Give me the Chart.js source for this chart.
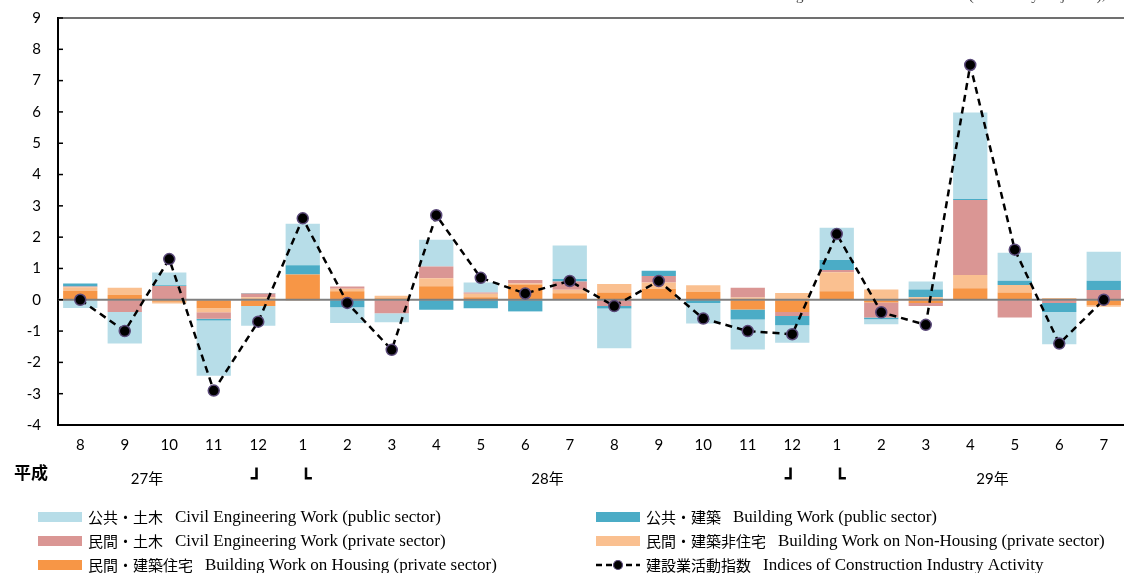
<!DOCTYPE html>
<html>
<head>
<meta charset="utf-8">
<script src="https://cdn.jsdelivr.net/npm/chart.js@4.4.0/dist/chart.umd.min.js"></script>
<style>
  html, body { margin: 0; padding: 0; background: #fff; }
  #wrap { width: 1124px; height: 573px; position: relative; overflow: hidden; }
</style>
</head>
<body>
<div id="wrap"><canvas id="chart" width="1133" height="573"></canvas></div>
<script>
const months = ['8', '9', '10', '11', '12', '1', '2', '3', '4', '5', '6', '7',
                '8', '9', '10', '11', '12', '1', '2', '3', '4', '5', '6', '7'];

// 寄与度 (contributions)
const housing    = [0.28, 0.15, -0.06, -0.27, -0.20, 0.81, 0.27, 0.05, 0.43, 0.08, 0.49, 0.21,
                    0.23, 0.35, 0.25, -0.31, -0.39, 0.27, -0.09, -0.10, 0.37, 0.23, 0.02, -0.17];
const nonHousing = [0.12, 0.23, -0.06, -0.13, 0.08, -0.03, 0.08, 0.08, 0.26, 0.11, 0.03, 0.11,
                    0.27, 0.20, 0.21, 0.07, 0.22, 0.61, 0.33, 0.08, 0.42, 0.24, 0.04, -0.05];
const privCivil  = [0.02, -0.39, 0.44, -0.21, 0.12, 0, 0.07, -0.43, 0.37, 0.04, 0.11, 0.26,
                    -0.20, 0.21, 0, 0.31, -0.13, 0.07, -0.48, -0.10, 2.40, -0.57, -0.10, 0.31];
const pubBuild   = [0.10, 0, 0.02, -0.05, 0.02, 0.29, -0.24, 0, -0.32, -0.27, -0.36, 0.08,
                    -0.08, 0.17, -0.10, -0.32, -0.29, 0.32, -0.05, 0.25, 0.03, 0.14, -0.29, 0.30];
const pubCivil   = [-0.26, -1.01, 0.41, -1.77, -0.63, 1.33, -0.50, -0.29, 0.86, 0.32, -0.03, 1.07,
                    -1.27, 0, -0.66, -0.96, -0.56, 1.03, -0.16, 0.25, 2.76, 0.89, -1.03, 0.92];

// 建設業活動指数 前月比
const activityIndex = [0.0, -1.0, 1.3, -2.9, -0.7, 2.6, -0.1, -1.6, 2.7, 0.7, 0.2, 0.6,
                       -0.2, 0.6, -0.6, -1.0, -1.1, 2.1, -0.4, -0.8, 7.5, 1.6, -1.4, 0.0];

const yearLabels = [{ text: '27年', at: 1.5 }, { text: '28年', at: 10.5 }, { text: '29年', at: 20.5 }];
const yearBreaks = [4, 16];

const colors = {
    pubCivil: '#B7DDE8',
    pubBuild: '#4BACC6',
    privCivil: '#DA9694',
    nonHousing: '#FAC090',
    housing: '#F79646'
};

const legendItems = [
    { col: 0, row: 0, color: colors.pubCivil, jp: '公共・土木', en: 'Civil Engineering Work (public sector)' },
    { col: 0, row: 1, color: colors.privCivil, jp: '民間・土木', en: 'Civil Engineering Work (private sector)' },
    { col: 0, row: 2, color: colors.housing, jp: '民間・建築住宅', en: 'Building Work on Housing (private sector)' },
    { col: 1, row: 0, color: colors.pubBuild, jp: '公共・建築', en: 'Building Work (public sector)' },
    { col: 1, row: 1, color: colors.nonHousing, jp: '民間・建築非住宅', en: 'Building Work on Non-Housing (private sector)' },
    { col: 1, row: 2, line: true, jp: '建設業活動指数', en: 'Indices of Construction Industry Activity' }
];

const JP_FONT = '"Noto Sans CJK JP", "Noto Sans", sans-serif';
const EN_FONT = '"Liberation Serif", "DejaVu Serif", serif';
const NUM_FONT = 'Lato, "Noto Sans CJK JP", sans-serif';

function barSet(label, data, color) {
    return {
        type: 'bar',
        label: label,
        data: data,
        backgroundColor: color,
        borderWidth: 0,
        stack: 'contrib',
        barPercentage: 0.77,
        categoryPercentage: 1.0
    };
}

const extras = {
    id: 'extras',
    beforeDatasetDraw(chart, args) {
        // zero line goes above the bars but under the index line
        if (args.index !== 0) return;
        const { ctx, chartArea } = chart;
        const y0 = chart.scales.y.getPixelForValue(0);
        ctx.save();
        ctx.strokeStyle = '#7f7f7f';
        ctx.lineWidth = 2;
        ctx.beginPath();
        ctx.moveTo(chartArea.left, y0);
        ctx.lineTo(chartArea.right, y0);
        ctx.stroke();
        ctx.restore();
    },
    afterDraw(chart) {
        const { ctx, chartArea } = chart;
        const x = chart.scales.x;
        const y = chart.scales.y;
        ctx.save();

        // top frame line
        ctx.strokeStyle = '#404040';
        ctx.lineWidth = 1.5;
        ctx.beginPath();
        ctx.moveTo(chartArea.left, chartArea.top);
        ctx.lineTo(chartArea.right, chartArea.top);
        ctx.stroke();

        // inward tick marks on the y axis
        ctx.strokeStyle = '#000';
        ctx.lineWidth = 1.5;
        y.ticks.forEach(t => {
            const py = y.getPixelForValue(t.value);
            ctx.beginPath();
            ctx.moveTo(chartArea.left, py);
            ctx.lineTo(chartArea.left + 5, py);
            ctx.stroke();
        });

        // clipped heading at the very top
        ctx.fillStyle = '#444';
        ctx.font = '15px ' + EN_FONT;
        ctx.textAlign = 'right';
        ctx.textBaseline = 'alphabetic';
        ctx.fillText('Contribution to Change from the Previous Month (Seasonally Adjusted),%', 1118, 0);

        // era / year row
        ctx.fillStyle = '#000';
        ctx.textBaseline = 'middle';
        ctx.textAlign = 'left';
        ctx.font = 'bold 17px ' + JP_FONT;
        ctx.fillText('平成', 14, 473);
        ctx.textAlign = 'center';
        ctx.font = '15px ' + NUM_FONT;
        yearLabels.forEach(l => ctx.fillText(l.text, x.getPixelForValue(l.at), 479));
        ctx.font = 'bold 17px "DejaVu Sans", sans-serif';
        ctx.strokeStyle = '#000';
        ctx.lineWidth = 1.2;
        yearBreaks.forEach(i => {
            const a = x.getPixelForValue(i) - 2;
            const b = x.getPixelForValue(i + 1) + 3;
            ctx.fillText('┘', a, 480);
            ctx.strokeText('┘', a, 480);
            ctx.fillText('└', b, 480);
            ctx.strokeText('└', b, 480);
        });

        // legend
        const colX = [38, 596];
        const rowY = [517, 541, 565];
        ctx.textAlign = 'left';
        legendItems.forEach(item => {
            const sx = colX[item.col];
            const sy = rowY[item.row];
            if (item.line) {
                ctx.strokeStyle = '#000';
                ctx.lineWidth = 2.5;
                ctx.setLineDash([6, 4]);
                ctx.beginPath();
                ctx.moveTo(sx, sy);
                ctx.lineTo(sx + 44, sy);
                ctx.stroke();
                ctx.setLineDash([]);
                ctx.fillStyle = '#000';
                ctx.strokeStyle = '#5b4a7a';
                ctx.lineWidth = 1.2;
                ctx.beginPath();
                ctx.arc(sx + 22, sy, 4.5, 0, Math.PI * 2);
                ctx.fill();
                ctx.stroke();
            } else {
                ctx.fillStyle = item.color;
                ctx.fillRect(sx, sy - 5, 44, 10);
            }
            ctx.fillStyle = '#000';
            ctx.font = '15px ' + JP_FONT;
            const tx = sx + 50;
            ctx.fillText(item.jp, tx, sy);
            const w = ctx.measureText(item.jp).width;
            ctx.font = '17px ' + EN_FONT;
            ctx.fillText(item.en, tx + w + 12, sy + 1);
        });

        ctx.restore();
    }
};

const ctx = document.getElementById('chart').getContext('2d');

new Chart(ctx, {
    data: {
        labels: months,
        datasets: [
            {
                type: 'line',
                label: '建設業活動指数',
                data: activityIndex,
                stack: 'index',
                borderColor: '#000',
                borderWidth: 2.5,
                borderDash: [7, 5],
                tension: 0,
                fill: false,
                pointRadius: 5.5,
                pointBackgroundColor: '#000',
                pointBorderColor: '#5b4a7a',
                pointBorderWidth: 1.5
            },
            barSet('民間・建築住宅', housing, colors.housing),
            barSet('民間・建築非住宅', nonHousing, colors.nonHousing),
            barSet('民間・土木', privCivil, colors.privCivil),
            barSet('公共・建築', pubBuild, colors.pubBuild),
            barSet('公共・土木', pubCivil, colors.pubCivil)
        ]
    },
    options: {
        responsive: false,
        animation: false,
        layout: { padding: { top: 18, left: 0, right: 0, bottom: 0 } },
        plugins: {
            legend: { display: false },
            tooltip: { enabled: false }
        },
        scales: {
            x: {
                stacked: true,
                grid: { display: false, drawTicks: false },
                border: { display: true, color: '#000', width: 2 },
                ticks: {
                    autoSkip: false,
                    maxRotation: 0,
                    padding: 11,
                    color: '#000',
                    font: { family: NUM_FONT, size: 15 }
                },
                afterFit(scale) { scale.height = 148; }
            },
            y: {
                stacked: true,
                min: -4,
                max: 9,
                // invisible tick length keeps labels away from the axis without extra top padding
                grid: { display: true, drawOnChartArea: false, drawTicks: true, tickLength: 17, tickColor: 'rgba(0,0,0,0)' },
                border: { display: true, color: '#000', width: 2 },
                ticks: {
                    stepSize: 1,
                    padding: 0,
                    color: '#000',
                    font: { family: NUM_FONT, size: 15 }
                },
                afterFit(scale) { scale.width = 58; }
            }
        }
    },
    plugins: [extras]
});
</script>
</body>
</html>
